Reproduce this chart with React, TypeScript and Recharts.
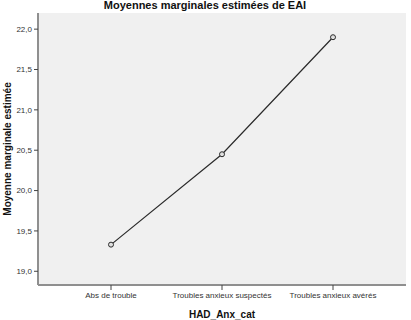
import { LineChart, Line, XAxis, YAxis, CartesianGrid } from 'recharts'

const categories = ['Abs de  trouble', 'Troubles anxieux suspectés', 'Troubles anxieux avérés']
const means = [19.33, 20.45, 21.9]
const yTicks = [19.0, 19.5, 20.0, 20.5, 21.0, 21.5, 22.0]

const data = categories.map((name, i) => ({ name, mean: means[i] }))

const font = '"Liberation Sans", Arial, sans-serif'

export default function App() {
  return (
    <div style={{ position: 'absolute', left: 0, top: 0, width: 411, height: 320, background: '#fff', fontFamily: font }}>
      <LineChart width={411} height={320} data={data} margin={{ top: 13, right: 5, left: 0, bottom: 0 }}>
        <CartesianGrid horizontal={false} vertical={false} fill="#f0f0f0" />
        <XAxis
          dataKey="name"
          type="category"
          padding={{ left: 73, right: 73 }}
          height={35}
          tick={{ fontSize: 8, fill: '#333', fontFamily: font }}
          tickLine={{ stroke: '#444' }}
          tickSize={5}
          axisLine={{ stroke: '#8f8f8f', strokeWidth: 2 }}
          interval={0}
          label={{ value: 'HAD_Anx_cat', position: 'insideBottom', offset: 2, style: { fontSize: 10, fontWeight: 'bold', fill: '#111', fontFamily: font } }}
        />
        <XAxis xAxisId="top" orientation="top" dataKey="name" height={0} tick={false} tickLine={false} axisLine={{ stroke: '#8f8f8f', strokeWidth: 2 }} />
        <YAxis
          domain={[18.83, 22.2]}
          ticks={yTicks}
          width={38}
          tickFormatter={(v: number) => v.toFixed(1).replace('.', ',')}
          tick={{ fontSize: 8, fill: '#333', fontFamily: font }}
          tickLine={{ stroke: '#444' }}
          tickSize={4}
          axisLine={{ stroke: '#8f8f8f', strokeWidth: 2 }}
          label={{ value: 'Moyenne marginale estimée', angle: -90, position: 'insideLeft', offset: 7, style: { fontSize: 10, fontWeight: 'bold', fill: '#111', fontFamily: font, textAnchor: 'middle' } }}
        />
        <YAxis yAxisId="right" orientation="right" width={0} tick={false} tickLine={false} axisLine={{ stroke: '#8f8f8f', strokeWidth: 2 }} />
        <Line
          type="linear"
          dataKey="mean"
          stroke="#2a2a2a"
          strokeWidth={1.2}
          dot={{ r: 2.5, fill: '#e0e0e0', stroke: '#2a2a2a', strokeWidth: 1 }}
          isAnimationActive={false}
        />
        <text x={205} y={9} textAnchor="middle" fontSize={11} fontWeight="bold" fill="#111" fontFamily={font}>
          Moyennes marginales estimées de EAI
        </text>
      </LineChart>
    </div>
  )
}
